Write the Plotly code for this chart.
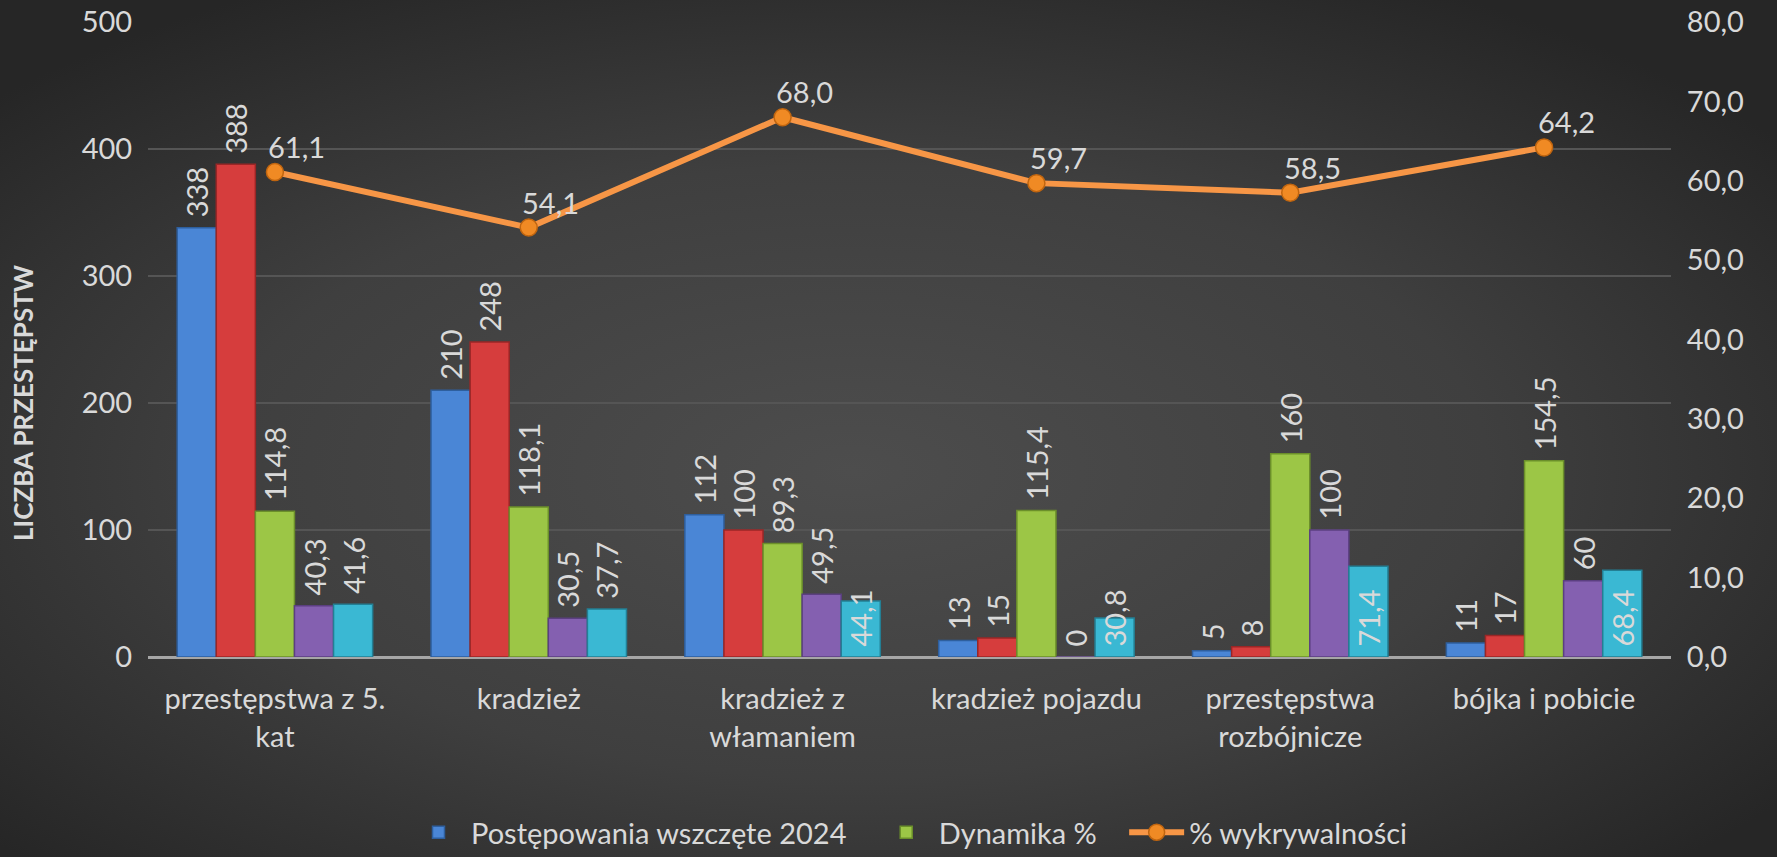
import base64
import plotly.graph_objects as go

categories = ["przestępstwa z 5.<br>kat", "kradzież", "kradzież z<br>włamaniem",
              "kradzież pojazdu", "przestępstwa<br>rozbójnicze", "bójka i pobicie"]
postepowania_2024 = [338, 210, 112, 13, 5, 11]
postepowania_2023 = [388, 248, 100, 15, 8, 17]
dynamika = [114.8, 118.1, 89.3, 115.4, 160, 154.5]
wykr_2023 = [40.3, 30.5, 49.5, 0, 100, 60]
wykr_2024 = [41.6, 37.7, 44.1, 30.8, 71.4, 68.4]
wykrywalnosc = [61.1, 54.1, 68.0, 59.7, 58.5, 64.2]

FONT = "Lato"
TXT = "#d9d9d9"
FS = 29
W, H = 1777, 857
L, R, T, B = 148, 106, 22, 200
PW, PH = W - L - R, H - T - B
PAD = "\u00a0\u00a0\u00a0"


def fmt(v):
    if float(v).is_integer():
        return str(int(v))
    return f"{v:.1f}".replace(".", ",")


svg = f'''<svg xmlns="http://www.w3.org/2000/svg" width="{W}" height="{H}" viewBox="0 0 {W} {H}" preserveAspectRatio="none">
<defs><radialGradient id="g" cx="48%" cy="55%" r="65%" fx="48%" fy="55%">
<stop offset="0%" stop-color="#4d4d4d"/><stop offset="55%" stop-color="#3f3f3f"/><stop offset="100%" stop-color="#262626"/>
</radialGradient></defs><rect width="{W}" height="{H}" fill="url(#g)"/></svg>'''
bg = "data:image/svg+xml;base64," + base64.b64encode(svg.encode()).decode()

fig = go.Figure()

bar_specs = [
    ("Postępowania wszczęte 2024", postepowania_2024, "#4a86d6", "#2e5f9e", True, "outside"),
    ("Postępowania wszczęte 2023", postepowania_2023, "#d63d3d", "#9a2626", False, "outside"),
    ("Dynamika %", dynamika, "#9cc646", "#6b8f2a", True, "outside"),
    ("% wykrywalności 2023", wykr_2023, "#8460b0", "#5b3f80", False, "outside"),
    ("% wykrywalności 2024", wykr_2024, "#3ab8d3", "#237f94", False,
     ["outside", "outside", "inside", "inside", "inside", "inside"]),
]
for name, vals, col, lc, show, tp in bar_specs:
    fig.add_trace(go.Bar(
        x=categories, y=vals, name=name + PAD, showlegend=show,
        marker=dict(color=col, line=dict(color=lc, width=1.5)),
        text=["\u00a0" + fmt(v) for v in vals], textposition=tp, textangle=-90,
        insidetextanchor="start", constraintext="none", cliponaxis=False,
        textfont=dict(family=FONT, size=FS, color=TXT),
        insidetextfont=dict(family=FONT, size=FS, color=TXT),
        outsidetextfont=dict(family=FONT, size=FS, color=TXT),
    ))

fig.add_trace(go.Scatter(
    x=categories, y=wykrywalnosc, name="% wykrywalności", yaxis="y2",
    mode="lines+markers",
    line=dict(color="#f79646", width=6),
    marker=dict(size=17, color="#f08a24", line=dict(color="#c0650f", width=1.5)),
    cliponaxis=False,
))

annotations = [
    dict(x=c, y=v, xref="x", yref="y2", text=f"{v:.1f}".replace(".", ","),
         showarrow=False, xanchor="center", yanchor="bottom", xshift=22, yshift=6,
         font=dict(family=FONT, size=FS, color=TXT))
    for c, v in zip(categories, wykrywalnosc)
]
annotations.append(dict(
    text="<b>LICZBA PRZESTĘPSTW</b>", xref="paper", yref="paper",
    x=(23 - L) / PW, y=1 - (403 - T) / PH, textangle=-90, showarrow=False,
    xanchor="center", yanchor="middle", font=dict(family=FONT, size=26, color=TXT)))

fig.update_layout(
    width=W, height=H,
    margin=dict(l=L, r=R, t=T, b=B, autoexpand=False),
    paper_bgcolor="#333333", plot_bgcolor="rgba(0,0,0,0)",
    separators=", ",
    barmode="group", bargap=0.23, bargroupgap=0,
    font=dict(family=FONT, size=FS, color=TXT),
    annotations=annotations,
    images=[dict(source=bg, xref="paper", yref="paper",
                 x=-L / PW, y=1 + T / PH, sizex=W / PW, sizey=H / PH,
                 sizing="stretch", layer="below", xanchor="left", yanchor="top")],
    xaxis=dict(showgrid=False, showline=False, ticks="", ticklabelstandoff=22, automargin=False,
               tickfont=dict(family=FONT, size=FS, color=TXT)),
    yaxis=dict(range=[0, 500], dtick=100, showgrid=True, gridcolor="#555555", gridwidth=1.5,
               zeroline=True, zerolinecolor="#a6a6a6", zerolinewidth=3, automargin=False,
               tickfont=dict(family=FONT, size=FS, color=TXT), ticksuffix="  "),
    yaxis2=dict(range=[0, 80], dtick=10, overlaying="y", side="right", showgrid=False,
                zeroline=False, tickformat=".1f", tickprefix="  ", automargin=False,
                tickfont=dict(family=FONT, size=FS, color=TXT)),
    legend=dict(orientation="h", x=0.5, xanchor="center", y=-0.236, yanchor="top",
                font=dict(family=FONT, size=FS, color=TXT), bgcolor="rgba(0,0,0,0)",
                itemwidth=55, tracegroupgap=0),
)

fig.write_html("out.html", config={"displayModeBar": False},
               post_script="document.body.style.margin='0';document.body.style.overflow='hidden';")
